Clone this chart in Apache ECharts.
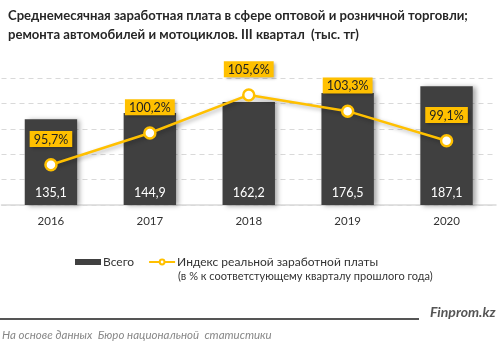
<!DOCTYPE html>
<html>
<head>
<meta charset="utf-8">
<script src="https://cdn.jsdelivr.net/npm/echarts@6/dist/echarts.min.js"></script>
<style>
  html, body { margin: 0; padding: 0; background: #fff; }
  #chart { width: 499px; height: 350px; }
</style>
</head>
<body>
<div id="chart"></div>
<script>
let years = ['2016', '2017', '2018', '2019', '2020'];
let totalValues = [135.1, 144.9, 162.2, 176.5, 187.1];
let indexValues = [95.7, 100.2, 105.6, 103.3, 99.1];

let fontMain = 'Lato, "Open Sans", sans-serif';
let yellow = '#FFC000';

let chart = echarts.init(document.getElementById('chart'));

let option = {
    animation: false,
    textStyle: { fontFamily: fontMain },
    title: {
        text: 'Среднемесячная заработная плата в сфере оптовой и розничной торговли;\nремонта автомобилей и мотоциклов. III квартал  (тыс. тг)',
        left: 3,
        top: 1,
        textStyle: {
            fontSize: 13.1,
            fontWeight: 'bold',
            color: '#262626',
            lineHeight: 19,
            fontFamily: fontMain
        }
    },
    legend: {
        top: 256,
        left: 75,
        padding: 0,
        itemGap: 14,
        itemWidth: 26,
        itemHeight: 6,
        textStyle: { fontSize: 12, color: '#333', padding: [0, 0, 0, -3] },
        data: [
            { name: 'Всего', icon: 'rect' },
            { name: 'Индекс реальной заработной платы' }
        ]
    },
    grid: {
        left: 1.5,
        right: 3,
        top: 78,
        bottom: 145,
        containLabel: false
    },
    xAxis: {
        type: 'category',
        data: years,
        axisTick: { show: false },
        axisLine: { lineStyle: { color: '#d9d9d9', width: 1.5 } },
        axisLabel: { color: '#333', fontSize: 11.5, margin: 10 }
    },
    yAxis: [
        {
            type: 'value',
            min: 0,
            max: 200,
            interval: 40,
            axisLabel: { show: false },
            axisLine: { show: false },
            axisTick: { show: false },
            splitLine: { lineStyle: { color: '#d9d9d9', type: [5, 4] } }
        },
        {
            type: 'value',
            min: 90,
            max: 108,
            show: false,
            splitLine: { show: false }
        }
    ],
    series: [
        {
            name: 'Всего',
            type: 'bar',
            data: totalValues,
            barWidth: '53%',
            itemStyle: {
                color: '#404040',
                shadowColor: 'rgba(0,0,0,0.35)',
                shadowBlur: 5,
                shadowOffsetX: 3,
                shadowOffsetY: 1
            },
            label: {
                show: true,
                position: 'insideBottom',
                distance: 6,
                color: '#fff',
                fontSize: 12.5,
                formatter: p => String(p.value).replace('.', ',')
            }
        },
        {
            name: 'Индекс реальной заработной платы',
            type: 'line',
            yAxisIndex: 1,
            data: indexValues,
            symbol: 'circle',
            symbolSize: 11,
            lineStyle: {
                color: yellow,
                width: 2.5,
                shadowColor: 'rgba(0,0,0,0.3)',
                shadowBlur: 4,
                shadowOffsetX: 2,
                shadowOffsetY: 2
            },
            itemStyle: {
                color: '#fff',
                borderColor: yellow,
                borderWidth: 2.5
            },
            label: {
                show: true,
                position: 'top',
                distance: 11,
                backgroundColor: yellow,
                color: '#222',
                fontSize: 12.5,
                padding: [2, 4, 1, 4],
                shadowColor: 'rgba(0,0,0,0.3)',
                shadowBlur: 3,
                shadowOffsetX: 2,
                shadowOffsetY: 2,
                formatter: p => String(p.value).replace('.', ',') + '%'
            },
            z: 5
        }
    ],
    graphic: [
        {
            type: 'text',
            left: 178,
            top: 271,
            style: {
                text: '(в % к соответстующему кварталу прошлого года)',
                fontSize: 11,
                fill: '#333',
                fontFamily: fontMain
            }
        },
        {
            type: 'rect',
            shape: { x: 0, y: 318, width: 419, height: 2 },
            style: { fill: '#555' }
        },
        {
            type: 'text',
            left: 430,
            top: 305,
            style: {
                text: 'Finprom.kz',
                fontSize: 14,
                fontWeight: 'bold',
                fontStyle: 'italic',
                fill: '#555',
                fontFamily: fontMain
            }
        },
        {
            type: 'text',
            left: 2,
            top: 329,
            style: {
                text: 'На основе данных  Бюро национальной  статистики',
                fontSize: 11.5,
                fontStyle: 'italic',
                fill: '#888',
                fontFamily: fontMain
            }
        }
    ]
};

chart.setOption(option);
</script>
</body>
</html>
